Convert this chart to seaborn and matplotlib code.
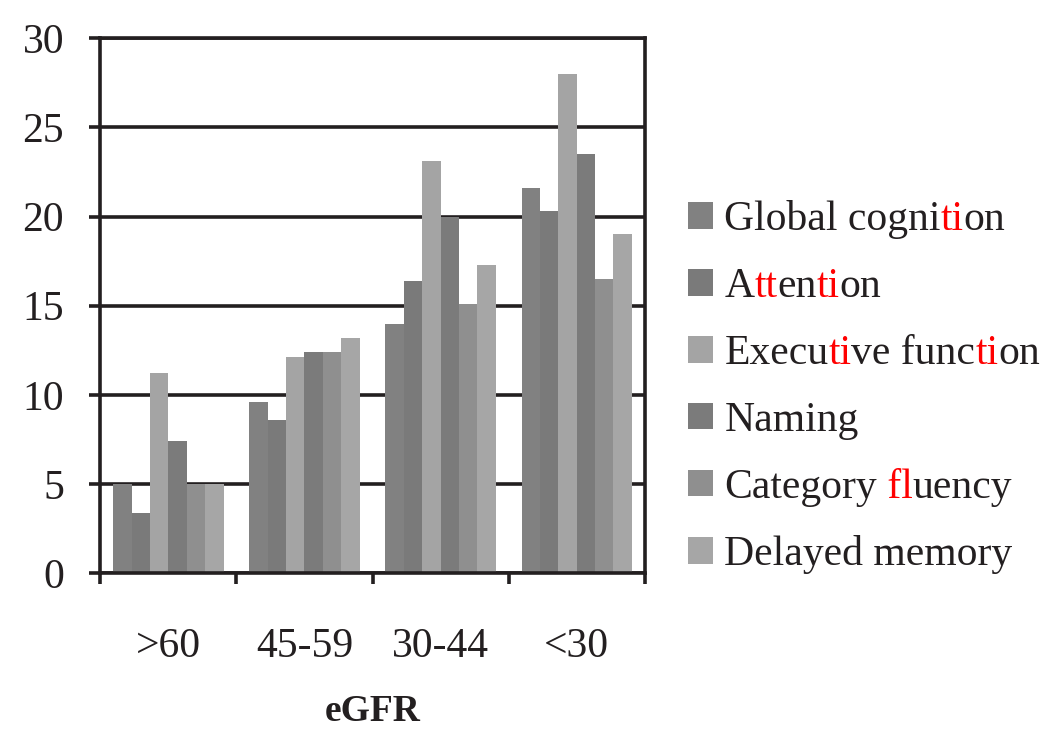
import matplotlib
matplotlib.use("Agg")
import matplotlib.pyplot as plt
import seaborn as sns
import pandas as pd

egfr_groups = [">60", "45-59", "30-44", "<30"]
domains = ["Global cognition", "Attention", "Executive function", "Naming",
           "Category fluency", "Delayed memory"]
global_cognition = [5.0, 9.6, 14.0, 21.6]
attention = [3.4, 8.6, 16.4, 20.3]
executive_function = [11.2, 12.1, 23.1, 28.0]
naming = [7.4, 12.4, 20.0, 23.5]
category_fluency = [5.0, 12.4, 15.1, 16.5]
delayed_memory = [5.0, 13.2, 17.3, 19.0]
y_ticks = [0, 5, 10, 15, 20, 25, 30]

TXT = "#231f20"

# legend label segments (dark / red) reproducing the ligature colouring
legend_segments = [
    [("Global cogni", TXT), ("ti", "red"), ("on", TXT)],
    [("A", TXT), ("tt", "red"), ("en", TXT), ("ti", "red"), ("on", TXT)],
    [("Execu", TXT), ("ti", "red"), ("ve func", TXT), ("ti", "red"), ("on", TXT)],
    [("Naming", TXT)],
    [("Category", TXT), (" fl", "red"), ("uency", TXT)],
    [("Delayed memory", TXT)],
]

colors = ["#818181", "#7a7a7a", "#a4a4a4", "#7b7b7b", "#8f8f8f", "#a6a6a6"]

series = [global_cognition, attention, executive_function, naming,
          category_fluency, delayed_memory]
rows = []
for dom, vals in zip(domains, series):
    for g, v in zip(egfr_groups, vals):
        rows.append({"eGFR": g, "Domain": dom, "Value": v})
df = pd.DataFrame(rows)

sns.set_style("white")
plt.rcParams["font.family"] = ["Liberation Serif", "DejaVu Serif"]
plt.rcParams["text.color"] = TXT
plt.rcParams["xtick.labelcolor"] = TXT
plt.rcParams["ytick.labelcolor"] = TXT

fig = plt.figure(figsize=(10.45, 7.34), dpi=100)
ax = fig.add_axes([0.096, 0.219, 0.521, 0.729])

sns.barplot(data=df, x="eGFR", y="Value", hue="Domain", order=egfr_groups,
            hue_order=domains, palette=colors, width=0.81, gap=0,
            linewidth=0, saturation=1, legend=False, ax=ax)

ax.set_ylim(0, 30)
ax.set_xlim(-0.5, 3.5)
ax.set_yticks(y_ticks)
ax.set_yticklabels([str(t) for t in y_ticks])
ax.yaxis.grid(True, color=TXT, linewidth=2.6)
ax.set_axisbelow(True)

# category labels at centres (no tick marks), tick marks at boundaries
ax.set_xticks(range(len(egfr_groups)))
ax.set_xticklabels(egfr_groups)
ax.set_xticks([i - 0.5 for i in range(len(egfr_groups) + 1)], minor=True)
ax.tick_params(axis="x", which="major", length=0, pad=39, labelsize=30,
               labelcolor=TXT)
ax.tick_params(axis="x", which="minor", length=8, width=2.6, color=TXT,
               direction="out", bottom=True)
ax.tick_params(axis="y", length=8, width=2.6, color=TXT, direction="out",
               left=True, pad=18, labelsize=30, labelcolor=TXT)

for sp in ax.spines.values():
    sp.set_visible(True)
    sp.set_color(TXT)
    sp.set_linewidth(2.6)

ax.set_ylabel("")
ax.set_xlabel("eGFR", fontsize=27, fontweight="bold", labelpad=20, color=TXT)

handles = [c.patches[0] for c in ax.containers]
first_labels = [segs[0][0] for segs in legend_segments]
leg = fig.legend(handles, first_labels, loc="center left",
                 bbox_to_anchor=(0.658, 0.4725), frameon=False,
                 fontsize=30, handlelength=0.6, handleheight=0.6,
                 handletextpad=0.28, labelspacing=0.68, borderpad=0,
                 borderaxespad=0)

# lay out the legend first so its text positions are known
fig.canvas.draw()

for txt, segs in zip(leg.get_texts(), legend_segments):
    txt.set_color(segs[0][1])
    prev = txt
    for s, col in segs[1:]:
        ann = matplotlib.text.Annotation(
            s, xy=(1, 0), xycoords=prev, xytext=(0, 0),
            textcoords="offset points", ha="left", va="bottom",
            fontsize=30, color=col, annotation_clip=False, zorder=10)
        fig.add_artist(ann)
        prev = ann

fig.savefig("out.png", dpi=100)
